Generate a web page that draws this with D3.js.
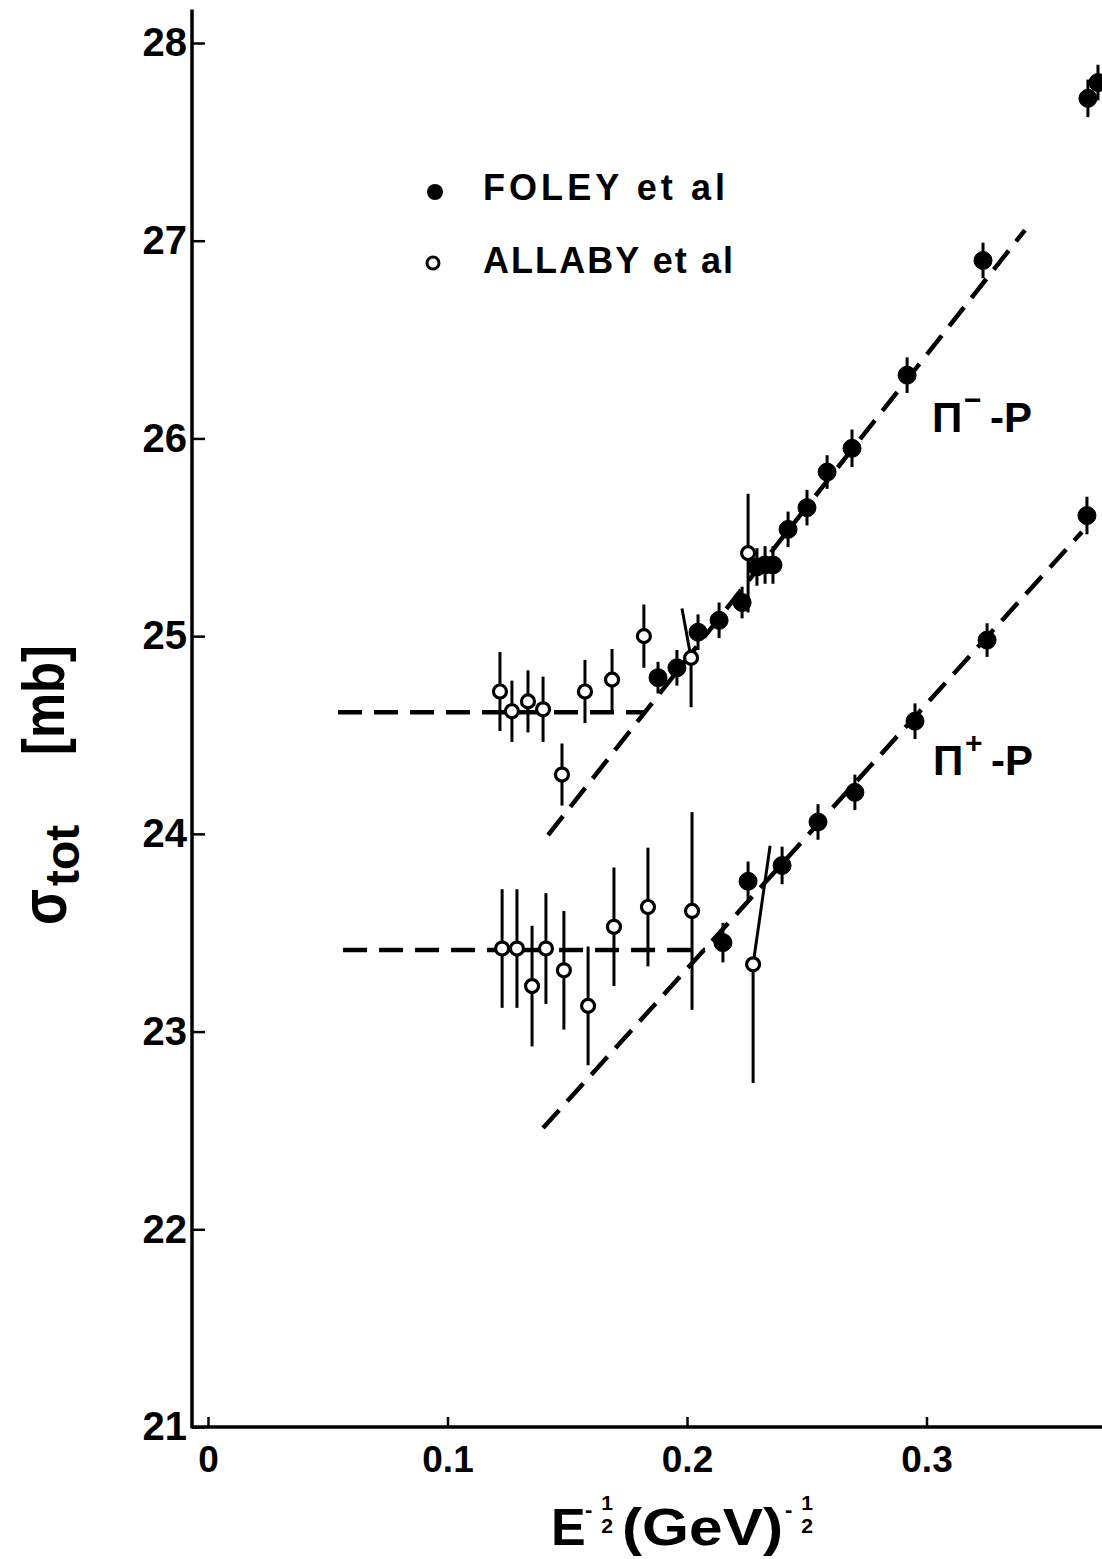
<!DOCTYPE html>
<html>
<head>
<meta charset="utf-8">
<script src="https://cdn.jsdelivr.net/npm/d3@7"></script>
<style>
body{margin:0;background:#fff;}
</style>
</head>
<body>
<div id="chart"></div>
<script>
// points: [E^-1/2, sigma_tot (mb), error, optional x of a slanted bar top]
const piMinusFoley=[
  [0.1879,24.79,0.08],[0.1958,24.84,0.09],[0.2046,25.02,0.09],[0.2134,25.08,0.09],
  [0.2230,25.17,0.08],[0.2292,25.35,0.095],[0.2326,25.36,0.095],[0.2359,25.36,0.095],
  [0.2422,25.54,0.09],[0.2501,25.65,0.09],[0.2585,25.83,0.085],[0.2689,25.95,0.095],
  [0.2919,26.32,0.09],[0.3236,26.90,0.09],[0.3674,27.72,0.095],[0.3716,27.80,0.09]
];
const piMinusAllaby=[
  [0.1219,24.72,0.20],[0.1269,24.62,0.155],[0.1336,24.67,0.157],[0.1399,24.63,0.165],
  [0.1478,24.30,0.157],[0.1574,24.72,0.16],[0.1687,24.78,0.155],[0.1820,25.00,0.16],
  [0.2017,24.89,0.25,0.1979],[0.2255,25.42,0.30]
];
const piPlusFoley=[
  [0.2150,23.45,0.10],[0.2255,23.76,0.10],[0.2397,23.84,0.095],[0.2547,24.06,0.09],
  [0.2701,24.21,0.09],[0.2952,24.57,0.09],[0.3253,24.98,0.085],[0.3670,25.61,0.095]
];
const piPlusAllaby=[
  [0.1228,23.42,0.30],[0.1290,23.42,0.30],[0.1353,23.23,0.305],[0.1411,23.42,0.28],
  [0.1486,23.31,0.30],[0.1587,23.13,0.30],[0.1695,23.53,0.30],[0.1837,23.63,0.30],
  [0.2021,23.61,0.50],[0.2276,23.34,0.60,0.2347]
];
// dashed fits (end points)
const piMinusFlat=[[0.0543,24.615],[0.1825,24.615]];
const piMinusSlope=[[0.1420,23.994],[0.3411,27.054]];
const piPlusFlat=[[0.0564,23.413],[0.2075,23.413]];
const piPlusSlope=[[0.1399,22.512],[0.3649,25.527]];

const xTicks=[0,0.1,0.2,0.3];
const yTicks=[21,22,23,24,25,26,27,28];
const legendNames=["FOLEY et al","ALLABY et al"];

const width=1102,height=1559;
const font="'Liberation Sans', Arial, sans-serif";
const x=d3.scaleLinear().domain([0,0.37]).range([208,208+0.37*2395]);
const y=d3.scaleLinear().domain([21,28]).range([1427,43]);
const axisX=192;

const svg=d3.select("#chart").append("svg")
  .attr("width",width).attr("height",height)
  .style("font-family",font);

// axes
const yAxis=d3.axisLeft(y).tickValues(yTicks).tickFormat(d3.format("d"))
  .tickSizeInner(-13).tickSizeOuter(0).tickPadding(5);
const gy=svg.append("g").attr("transform","translate("+axisX+",0)").call(yAxis);
gy.select(".domain").remove();
gy.selectAll(".tick line").attr("stroke","#000").attr("stroke-width",2.5);
gy.selectAll("text").attr("font-family",font).attr("font-size",40).attr("font-weight","bold").attr("fill","#000");

const xAxis=d3.axisBottom(x).tickValues(xTicks)
  .tickFormat(d=>d===0?"0":d3.format(".1f")(d))
  .tickSizeInner(-10).tickSizeOuter(0).tickPadding(19);
const gx=svg.append("g").attr("transform","translate(0,"+y(21)+")").call(xAxis);
gx.select(".domain").remove();
gx.selectAll(".tick line").attr("stroke","#000").attr("stroke-width",2.5);
gx.selectAll("text").attr("font-family",font).attr("font-size",37).attr("font-weight","bold").attr("fill","#000");

svg.append("line").attr("x1",axisX).attr("x2",axisX).attr("y1",y(28.17)).attr("y2",y(21)+1.5)
  .attr("stroke","#000").attr("stroke-width",3.5);
svg.append("line").attr("x1",axisX).attr("x2",width).attr("y1",y(21)).attr("y2",y(21))
  .attr("stroke","#000").attr("stroke-width",3.5);

// dashed fit lines
const line=d3.line().x(d=>x(d[0])).y(d=>y(d[1]));
[piMinusFlat,piMinusSlope,piPlusFlat,piPlusSlope].forEach(seg=>{
  svg.append("path").datum(seg).attr("d",line)
    .attr("fill","none").attr("stroke","#000").attr("stroke-width",4.5)
    .attr("stroke-dasharray","24,12");
});

// error bars + markers
function drawSet(data,filled){
  const g=svg.append("g");
  g.selectAll("path.err").data(data).enter().append("path")
    .attr("class","err")
    .attr("d",d=>{
      const tx=d.length>3?d[3]:d[0];
      return "M"+x(tx)+","+y(d[1]+d[2])+"L"+x(d[0])+","+y(d[1])+"L"+x(d[0])+","+y(d[1]-d[2]);
    })
    .attr("fill","none").attr("stroke","#000").attr("stroke-width",3);
  g.selectAll("circle").data(data).enter().append("circle")
    .attr("cx",d=>x(d[0])).attr("cy",d=>y(d[1]))
    .attr("r",filled?9:6.5)
    .attr("fill",filled?"#000":"#fff")
    .attr("stroke","#000").attr("stroke-width",filled?1:3.2);
}
drawSet(piMinusAllaby,false);
drawSet(piPlusAllaby,false);
drawSet(piMinusFoley,true);
drawSet(piPlusFoley,true);

// legend
svg.append("circle").attr("cx",435).attr("cy",192).attr("r",8).attr("fill","#000");
svg.append("circle").attr("cx",433).attr("cy",263).attr("r",6).attr("fill","#fff")
  .attr("stroke","#000").attr("stroke-width",3);
svg.selectAll("text.legend").data(legendNames).enter().append("text")
  .attr("class","legend")
  .attr("x",483).attr("y",(d,i)=>i===0?200:273)
  .attr("textLength",(d,i)=>i===0?242:250).attr("lengthAdjust","spacing")
  .attr("font-size",36).attr("font-weight","bold").text(d=>d);

// reaction labels
function reaction(xp,yb,sign){
  const t=svg.append("text").attr("y",yb).attr("font-size",42).attr("font-weight","bold");
  t.append("tspan").attr("x",xp).text("Π");
  t.append("tspan").attr("x",xp+32).attr("dy",-22).attr("font-size",30).text(sign);
  t.append("tspan").attr("x",xp+58).attr("dy",22).text("-P");
}
reaction(932,432,"−");
reaction(933,775,"+");

// x axis title
const xt=svg.append("g").attr("font-weight","bold");
xt.append("text").attr("x",551).attr("y",1545).attr("font-size",52).text("E");
xt.append("text").attr("x",622).attr("y",1545).attr("font-size",52)
  .attr("textLength",161).attr("lengthAdjust","spacingAndGlyphs").text("(GeV)");
[585,785].forEach(px=>{
  xt.append("text").attr("x",px).attr("y",1517).attr("font-size",22).text("-");
  xt.append("text").attr("x",px+22).attr("y",1510).attr("font-size",21).attr("text-anchor","middle").text("1");
  xt.append("text").attr("x",px+22).attr("y",1533).attr("font-size",21).attr("text-anchor","middle").text("2");
});

// y axis title
const yt=svg.append("text").attr("transform","translate(66,925) rotate(-90)").attr("font-weight","bold");
yt.append("tspan").attr("font-size",64).attr("textLength",36).attr("lengthAdjust","spacingAndGlyphs").text("σ");
yt.append("tspan").attr("font-size",48).attr("dy",13).attr("dx",3).text("tot");
svg.append("text").attr("transform","translate(64,755) rotate(-90)")
  .attr("font-size",60).attr("font-weight","bold")
  .attr("textLength",110).attr("lengthAdjust","spacingAndGlyphs").text("[mb]");
</script>
</body>
</html>
